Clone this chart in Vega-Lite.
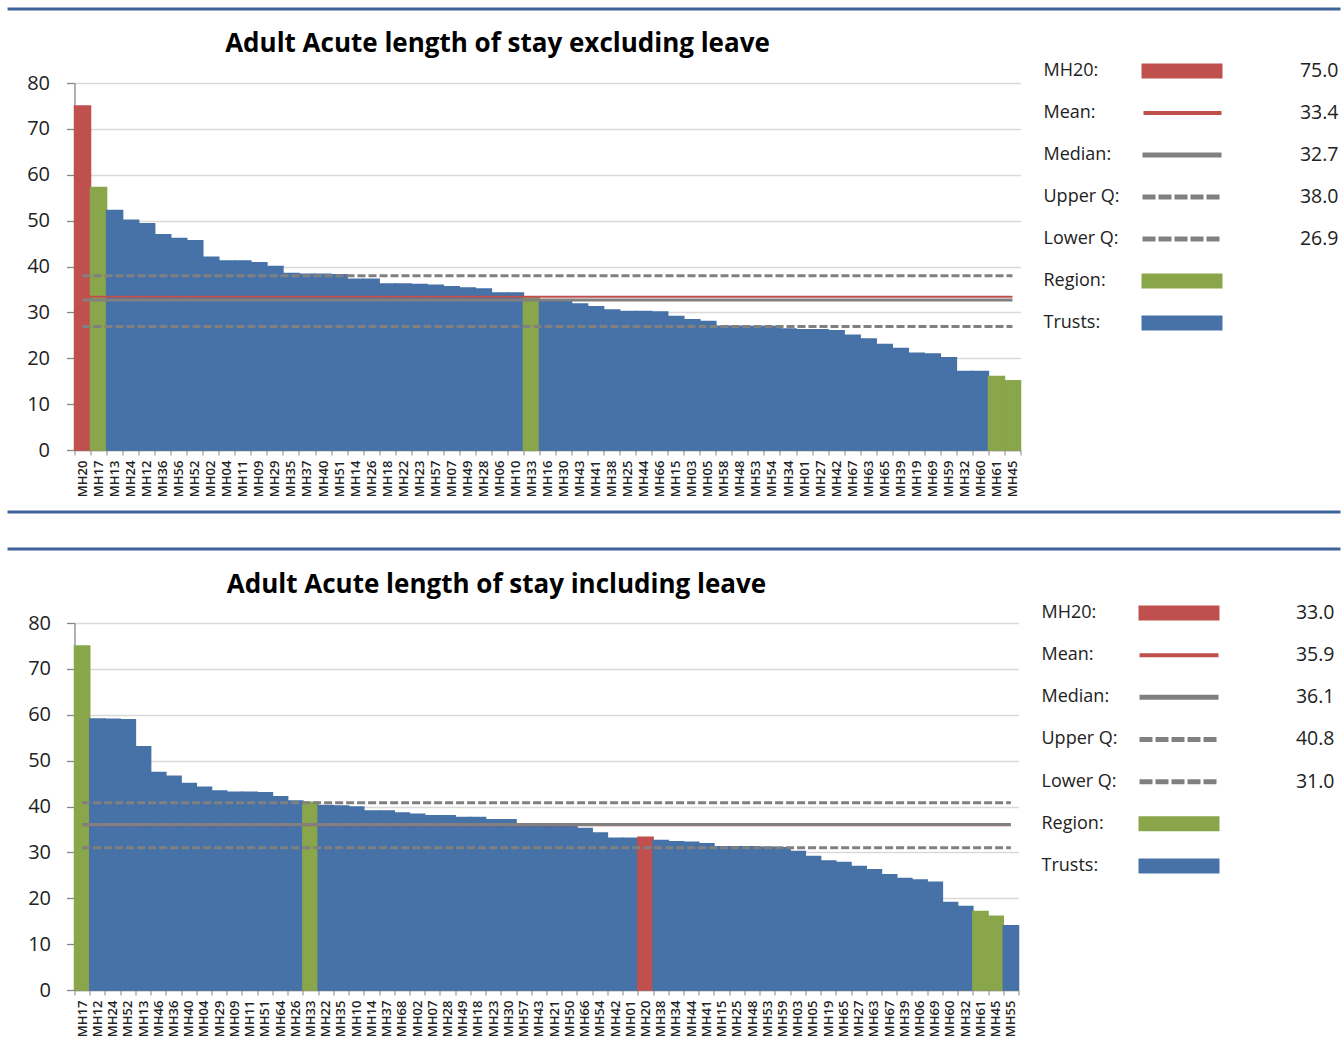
{
  "$schema": "https://vega.github.io/schema/vega-lite/v6.json",
  "background": "white",
  "padding": {"left": 5.5, "top": 7, "right": 0, "bottom": 0},
  "spacing": 13,
  "align": "none",
  "datasets": {
    "excl": [
      {"trust": "MH20", "los": 75.0, "group": "MH20"},
      {"trust": "MH17", "los": 57.2, "group": "Region"},
      {"trust": "MH13", "los": 52.2, "group": "Trusts"},
      {"trust": "MH24", "los": 50.1, "group": "Trusts"},
      {"trust": "MH12", "los": 49.3, "group": "Trusts"},
      {"trust": "MH36", "los": 46.9, "group": "Trusts"},
      {"trust": "MH56", "los": 46.1, "group": "Trusts"},
      {"trust": "MH52", "los": 45.6, "group": "Trusts"},
      {"trust": "MH02", "los": 42.0, "group": "Trusts"},
      {"trust": "MH04", "los": 41.2, "group": "Trusts"},
      {"trust": "MH11", "los": 41.2, "group": "Trusts"},
      {"trust": "MH09", "los": 40.8, "group": "Trusts"},
      {"trust": "MH29", "los": 40.0, "group": "Trusts"},
      {"trust": "MH35", "los": 38.5, "group": "Trusts"},
      {"trust": "MH37", "los": 38.3, "group": "Trusts"},
      {"trust": "MH40", "los": 38.3, "group": "Trusts"},
      {"trust": "MH51", "los": 38.2, "group": "Trusts"},
      {"trust": "MH14", "los": 37.2, "group": "Trusts"},
      {"trust": "MH26", "los": 37.2, "group": "Trusts"},
      {"trust": "MH18", "los": 36.2, "group": "Trusts"},
      {"trust": "MH22", "los": 36.2, "group": "Trusts"},
      {"trust": "MH23", "los": 36.1, "group": "Trusts"},
      {"trust": "MH57", "los": 35.9, "group": "Trusts"},
      {"trust": "MH07", "los": 35.6, "group": "Trusts"},
      {"trust": "MH49", "los": 35.3, "group": "Trusts"},
      {"trust": "MH28", "los": 35.1, "group": "Trusts"},
      {"trust": "MH06", "los": 34.2, "group": "Trusts"},
      {"trust": "MH10", "los": 34.2, "group": "Trusts"},
      {"trust": "MH33", "los": 33.4, "group": "Region"},
      {"trust": "MH16", "los": 32.7, "group": "Trusts"},
      {"trust": "MH30", "los": 32.3, "group": "Trusts"},
      {"trust": "MH43", "los": 31.8, "group": "Trusts"},
      {"trust": "MH41", "los": 31.2, "group": "Trusts"},
      {"trust": "MH38", "los": 30.5, "group": "Trusts"},
      {"trust": "MH25", "los": 30.2, "group": "Trusts"},
      {"trust": "MH44", "los": 30.2, "group": "Trusts"},
      {"trust": "MH66", "los": 30.1, "group": "Trusts"},
      {"trust": "MH15", "los": 29.1, "group": "Trusts"},
      {"trust": "MH03", "los": 28.4, "group": "Trusts"},
      {"trust": "MH05", "los": 28.0, "group": "Trusts"},
      {"trust": "MH58", "los": 27.0, "group": "Trusts"},
      {"trust": "MH48", "los": 27.0, "group": "Trusts"},
      {"trust": "MH53", "los": 26.9, "group": "Trusts"},
      {"trust": "MH54", "los": 26.9, "group": "Trusts"},
      {"trust": "MH34", "los": 26.4, "group": "Trusts"},
      {"trust": "MH01", "los": 26.2, "group": "Trusts"},
      {"trust": "MH27", "los": 26.2, "group": "Trusts"},
      {"trust": "MH42", "los": 26.0, "group": "Trusts"},
      {"trust": "MH67", "los": 25.0, "group": "Trusts"},
      {"trust": "MH63", "los": 24.2, "group": "Trusts"},
      {"trust": "MH65", "los": 23.0, "group": "Trusts"},
      {"trust": "MH39", "los": 22.1, "group": "Trusts"},
      {"trust": "MH19", "los": 21.1, "group": "Trusts"},
      {"trust": "MH69", "los": 20.9, "group": "Trusts"},
      {"trust": "MH59", "los": 20.1, "group": "Trusts"},
      {"trust": "MH32", "los": 17.1, "group": "Trusts"},
      {"trust": "MH60", "los": 17.1, "group": "Trusts"},
      {"trust": "MH61", "los": 16.0, "group": "Region"},
      {"trust": "MH45", "los": 15.1, "group": "Region"}
    ],
    "incl": [
      {"trust": "MH17", "los": 75.0, "group": "Region"},
      {"trust": "MH12", "los": 59.1, "group": "Trusts"},
      {"trust": "MH24", "los": 59.0, "group": "Trusts"},
      {"trust": "MH52", "los": 58.9, "group": "Trusts"},
      {"trust": "MH13", "los": 53.0, "group": "Trusts"},
      {"trust": "MH46", "los": 47.4, "group": "Trusts"},
      {"trust": "MH36", "los": 46.6, "group": "Trusts"},
      {"trust": "MH40", "los": 45.0, "group": "Trusts"},
      {"trust": "MH04", "los": 44.2, "group": "Trusts"},
      {"trust": "MH29", "los": 43.4, "group": "Trusts"},
      {"trust": "MH09", "los": 43.1, "group": "Trusts"},
      {"trust": "MH11", "los": 43.1, "group": "Trusts"},
      {"trust": "MH51", "los": 43.0, "group": "Trusts"},
      {"trust": "MH64", "los": 42.1, "group": "Trusts"},
      {"trust": "MH26", "los": 41.2, "group": "Trusts"},
      {"trust": "MH33", "los": 40.9, "group": "Region"},
      {"trust": "MH22", "los": 40.2, "group": "Trusts"},
      {"trust": "MH35", "los": 40.1, "group": "Trusts"},
      {"trust": "MH10", "los": 39.9, "group": "Trusts"},
      {"trust": "MH14", "los": 39.0, "group": "Trusts"},
      {"trust": "MH37", "los": 39.0, "group": "Trusts"},
      {"trust": "MH68", "los": 38.6, "group": "Trusts"},
      {"trust": "MH02", "los": 38.3, "group": "Trusts"},
      {"trust": "MH07", "los": 38.0, "group": "Trusts"},
      {"trust": "MH28", "los": 38.0, "group": "Trusts"},
      {"trust": "MH49", "los": 37.6, "group": "Trusts"},
      {"trust": "MH18", "los": 37.6, "group": "Trusts"},
      {"trust": "MH23", "los": 37.1, "group": "Trusts"},
      {"trust": "MH30", "los": 37.1, "group": "Trusts"},
      {"trust": "MH57", "los": 36.2, "group": "Trusts"},
      {"trust": "MH43", "los": 36.1, "group": "Trusts"},
      {"trust": "MH21", "los": 35.9, "group": "Trusts"},
      {"trust": "MH50", "los": 35.8, "group": "Trusts"},
      {"trust": "MH66", "los": 35.2, "group": "Trusts"},
      {"trust": "MH54", "los": 34.2, "group": "Trusts"},
      {"trust": "MH42", "los": 33.1, "group": "Trusts"},
      {"trust": "MH01", "los": 33.1, "group": "Trusts"},
      {"trust": "MH20", "los": 33.3, "group": "MH20"},
      {"trust": "MH38", "los": 32.6, "group": "Trusts"},
      {"trust": "MH34", "los": 32.3, "group": "Trusts"},
      {"trust": "MH44", "los": 32.2, "group": "Trusts"},
      {"trust": "MH41", "los": 31.9, "group": "Trusts"},
      {"trust": "MH15", "los": 31.2, "group": "Trusts"},
      {"trust": "MH25", "los": 31.2, "group": "Trusts"},
      {"trust": "MH48", "los": 31.2, "group": "Trusts"},
      {"trust": "MH53", "los": 31.1, "group": "Trusts"},
      {"trust": "MH59", "los": 31.0, "group": "Trusts"},
      {"trust": "MH03", "los": 30.2, "group": "Trusts"},
      {"trust": "MH05", "los": 29.1, "group": "Trusts"},
      {"trust": "MH19", "los": 28.1, "group": "Trusts"},
      {"trust": "MH65", "los": 27.8, "group": "Trusts"},
      {"trust": "MH27", "los": 26.9, "group": "Trusts"},
      {"trust": "MH63", "los": 26.2, "group": "Trusts"},
      {"trust": "MH67", "los": 25.1, "group": "Trusts"},
      {"trust": "MH39", "los": 24.3, "group": "Trusts"},
      {"trust": "MH06", "los": 24.0, "group": "Trusts"},
      {"trust": "MH69", "los": 23.5, "group": "Trusts"},
      {"trust": "MH60", "los": 19.1, "group": "Trusts"},
      {"trust": "MH32", "los": 18.2, "group": "Trusts"},
      {"trust": "MH61", "los": 17.1, "group": "Region"},
      {"trust": "MH45", "los": 16.1, "group": "Region"},
      {"trust": "MH55", "los": 14.0, "group": "Trusts"}
    ],
    "excl_stats": [
      {"stat": "Mean", "value": 33.4},
      {"stat": "Median", "value": 32.7},
      {"stat": "Upper Q", "value": 38.0},
      {"stat": "Lower Q", "value": 26.9}
    ],
    "incl_stats": [
      {"stat": "Mean", "value": 35.9},
      {"stat": "Median", "value": 36.1},
      {"stat": "Upper Q", "value": 40.8},
      {"stat": "Lower Q", "value": 31.0}
    ],
    "excl_legend": [
      {"order": 1, "label": "MH20:", "value": "75.0", "symbol": "bar"},
      {"order": 2, "label": "Mean:", "value": "33.4", "symbol": "mean"},
      {"order": 3, "label": "Median:", "value": "32.7", "symbol": "median"},
      {"order": 4, "label": "Upper Q:", "value": "38.0", "symbol": "quartile"},
      {"order": 5, "label": "Lower Q:", "value": "26.9", "symbol": "quartile"},
      {"order": 6, "label": "Region:", "value": "", "symbol": "bar"},
      {"order": 7, "label": "Trusts:", "value": "", "symbol": "bar"}
    ],
    "incl_legend": [
      {"order": 1, "label": "MH20:", "value": "33.0", "symbol": "bar"},
      {"order": 2, "label": "Mean:", "value": "35.9", "symbol": "mean"},
      {"order": 3, "label": "Median:", "value": "36.1", "symbol": "median"},
      {"order": 4, "label": "Upper Q:", "value": "40.8", "symbol": "quartile"},
      {"order": 5, "label": "Lower Q:", "value": "31.0", "symbol": "quartile"},
      {"order": 6, "label": "Region:", "value": "", "symbol": "bar"},
      {"order": 7, "label": "Trusts:", "value": "", "symbol": "bar"}
    ],
    "separator": [{"line": "separator"}]
  },
  "vconcat": [
    {
      "data": {"name": "separator"},
      "width": 1266, "height": 9,
      "mark": {"type": "rule", "color": "#3E6399", "strokeWidth": 3},
      "encoding": {
        "x": {"datum": -0.0529, "type": "quantitative", "scale": {"domain": [0, 1], "nice": false, "zero": false}, "axis": null},
        "x2": {"datum": 1},
        "y": {"datum": 1, "type": "quantitative", "scale": {"domain": [0, 1], "nice": false}, "axis": null}
      }
    },
    {
      "spacing": 10,
      "hconcat": [
        {
          "width": 946, "height": 367,
          "title": {"text": "Adult Acute length of stay excluding leave", "frame": "group", "dx": -50, "offset": 16, "fontSize": 26, "font": "Open Sans", "fontWeight": "bold", "color": "#000000"},
          "layer": [
            {
              "data": {"name": "excl"},
              "mark": {"type": "bar", "strokeWidth": 1.5},
              "encoding": {
                "x": {"field": "trust", "type": "nominal", "sort": null, "scale": {"paddingInner": 0, "paddingOuter": 0}},
                "y": {"field": "los", "type": "quantitative", "scale": {"domain": [0, 80]}, "axis": {"values": [0, 10, 20, 30, 40, 50, 60, 70, 80]}},
                "color": {"field": "group", "type": "nominal", "scale": {"domain": ["MH20", "Region", "Trusts"], "range": ["#C0504D", "#8AA64B", "#4672A7"]}, "legend": null},
                "stroke": {"field": "group", "type": "nominal", "scale": {"domain": ["MH20", "Region", "Trusts"], "range": ["#C0504D", "#8AA64B", "#4672A7"]}, "legend": null}
              }
            },
            {
              "data": {"name": "excl_stats"},
              "transform": [{"filter": "datum.stat == 'Upper Q' || datum.stat == 'Lower Q'"}],
              "mark": {"type": "rule", "color": "#808080", "strokeWidth": 3, "strokeDash": [8, 3]},
              "encoding": {"x": {"datum": "MH20"}, "x2": {"datum": "MH45"}, "y": {"field": "value", "type": "quantitative"}}
            },
            {
              "data": {"name": "excl_stats"},
              "transform": [{"filter": "datum.stat == 'Mean'"}],
              "mark": {"type": "rule", "color": "#C0504D", "strokeWidth": 2},
              "encoding": {"x": {"datum": "MH20"}, "x2": {"datum": "MH45"}, "y": {"field": "value", "type": "quantitative"}}
            },
            {
              "data": {"name": "excl_stats"},
              "transform": [{"filter": "datum.stat == 'Median'"}],
              "mark": {"type": "rule", "color": "#808080", "strokeWidth": 3},
              "encoding": {"x": {"datum": "MH20"}, "x2": {"datum": "MH45"}, "y": {"field": "value", "type": "quantitative"}}
            }
          ]
        },
        {
          "data": {"name": "excl_legend"},
          "width": 310, "height": 367,
          "encoding": {
            "y": {"field": "order", "type": "quantitative", "axis": null, "scale": {"domain": [1.286, 10.024], "reverse": true, "nice": false, "zero": false}}
          },
          "layer": [
            {
              "mark": {"type": "text", "align": "left", "baseline": "middle", "fontSize": 18, "font": "Open Sans", "color": "#222222"},
              "encoding": {"x": {"datum": 12, "type": "quantitative", "scale": {"domain": [0, 310], "nice": false, "zero": false}, "axis": null}, "text": {"field": "label"}}
            },
            {
              "mark": {"type": "text", "align": "right", "baseline": "middle", "fontSize": 19.5, "font": "Open Sans", "color": "#222222"},
              "encoding": {"x": {"datum": 307, "type": "quantitative"}, "text": {"field": "value"}}
            },
            {
              "transform": [{"filter": "datum.symbol == 'bar'"}],
              "mark": {"type": "rule", "strokeWidth": 15, "strokeCap": "butt"},
              "encoding": {
                "x": {"datum": 110, "type": "quantitative"}, "x2": {"datum": 191},
                "color": {"field": "label", "type": "nominal", "scale": {"domain": ["MH20:", "Region:", "Trusts:"], "range": ["#C0504D", "#8AA64B", "#4672A7"]}, "legend": null}
              }
            },
            {
              "transform": [{"filter": "datum.symbol == 'mean'"}],
              "mark": {"type": "rule", "strokeWidth": 4, "color": "#C0504D"},
              "encoding": {"x": {"datum": 112, "type": "quantitative"}, "x2": {"datum": 190}}
            },
            {
              "transform": [{"filter": "datum.symbol == 'median'"}],
              "mark": {"type": "rule", "strokeWidth": 5, "color": "#808080"},
              "encoding": {"x": {"datum": 111, "type": "quantitative"}, "x2": {"datum": 190}}
            },
            {
              "transform": [{"filter": "datum.symbol == 'quartile'"}],
              "mark": {"type": "rule", "strokeWidth": 5, "color": "#808080", "strokeDash": [13, 3]},
              "encoding": {"x": {"datum": 111, "type": "quantitative"}, "x2": {"datum": 190}}
            }
          ]
        }
      ]
    },
    {
      "data": {"name": "separator"},
      "width": 1266, "height": 22,
      "mark": {"type": "rule", "color": "#3E6399", "strokeWidth": 3},
      "encoding": {
        "x": {"datum": -0.0529, "type": "quantitative", "scale": {"domain": [0, 1], "nice": false, "zero": false}, "axis": null},
        "x2": {"datum": 1},
        "y": {"datum": 1, "type": "quantitative", "scale": {"domain": [0, 1], "nice": false}, "axis": null}
      }
    },
    {
      "data": {"name": "separator"},
      "width": 1266, "height": 10,
      "mark": {"type": "rule", "color": "#3E6399", "strokeWidth": 3},
      "encoding": {
        "x": {"datum": -0.0529, "type": "quantitative", "scale": {"domain": [0, 1], "nice": false, "zero": false}, "axis": null},
        "x2": {"datum": 1},
        "y": {"datum": 1, "type": "quantitative", "scale": {"domain": [0, 1], "nice": false}, "axis": null}
      }
    },
    {
      "spacing": 10,
      "hconcat": [
        {
          "width": 944, "height": 367,
          "title": {"text": "Adult Acute length of stay including leave", "frame": "group", "dx": -50, "offset": 15, "fontSize": 26, "font": "Open Sans", "fontWeight": "bold", "color": "#000000"},
          "layer": [
            {
              "data": {"name": "incl"},
              "mark": {"type": "bar", "strokeWidth": 1.5},
              "encoding": {
                "x": {"field": "trust", "type": "nominal", "sort": null, "scale": {"paddingInner": 0, "paddingOuter": 0}},
                "y": {"field": "los", "type": "quantitative", "scale": {"domain": [0, 80]}, "axis": {"values": [0, 10, 20, 30, 40, 50, 60, 70, 80], "minExtent": 66, "maxExtent": 66, "labelPadding": 16}},
                "color": {"field": "group", "type": "nominal", "scale": {"domain": ["MH20", "Region", "Trusts"], "range": ["#C0504D", "#8AA64B", "#4672A7"]}, "legend": null},
                "stroke": {"field": "group", "type": "nominal", "scale": {"domain": ["MH20", "Region", "Trusts"], "range": ["#C0504D", "#8AA64B", "#4672A7"]}, "legend": null}
              }
            },
            {
              "data": {"name": "incl_stats"},
              "transform": [{"filter": "datum.stat == 'Upper Q' || datum.stat == 'Lower Q'"}],
              "mark": {"type": "rule", "color": "#808080", "strokeWidth": 3, "strokeDash": [8, 3]},
              "encoding": {"x": {"datum": "MH17"}, "x2": {"datum": "MH55"}, "y": {"field": "value", "type": "quantitative"}}
            },
            {
              "data": {"name": "incl_stats"},
              "transform": [{"filter": "datum.stat == 'Mean'"}],
              "mark": {"type": "rule", "color": "#C0504D", "strokeWidth": 2},
              "encoding": {"x": {"datum": "MH17"}, "x2": {"datum": "MH55"}, "y": {"field": "value", "type": "quantitative"}}
            },
            {
              "data": {"name": "incl_stats"},
              "transform": [{"filter": "datum.stat == 'Median'"}],
              "mark": {"type": "rule", "color": "#808080", "strokeWidth": 3},
              "encoding": {"x": {"datum": "MH17"}, "x2": {"datum": "MH55"}, "y": {"field": "value", "type": "quantitative"}}
            }
          ]
        },
        {
          "data": {"name": "incl_legend"},
          "width": 310, "height": 367,
          "encoding": {
            "y": {"field": "order", "type": "quantitative", "axis": null, "scale": {"domain": [1.238, 9.941], "reverse": true, "nice": false, "zero": false}}
          },
          "layer": [
            {
              "mark": {"type": "text", "align": "left", "baseline": "middle", "fontSize": 18, "font": "Open Sans", "color": "#222222"},
              "encoding": {"x": {"datum": 12, "type": "quantitative", "scale": {"domain": [0, 310], "nice": false, "zero": false}, "axis": null}, "text": {"field": "label"}}
            },
            {
              "mark": {"type": "text", "align": "right", "baseline": "middle", "fontSize": 19.5, "font": "Open Sans", "color": "#222222"},
              "encoding": {"x": {"datum": 305, "type": "quantitative"}, "text": {"field": "value"}}
            },
            {
              "transform": [{"filter": "datum.symbol == 'bar'"}],
              "mark": {"type": "rule", "strokeWidth": 15, "strokeCap": "butt"},
              "encoding": {
                "x": {"datum": 109, "type": "quantitative"}, "x2": {"datum": 190},
                "color": {"field": "label", "type": "nominal", "scale": {"domain": ["MH20:", "Region:", "Trusts:"], "range": ["#C0504D", "#8AA64B", "#4672A7"]}, "legend": null}
              }
            },
            {
              "transform": [{"filter": "datum.symbol == 'mean'"}],
              "mark": {"type": "rule", "strokeWidth": 4, "color": "#C0504D"},
              "encoding": {"x": {"datum": 110, "type": "quantitative"}, "x2": {"datum": 189}}
            },
            {
              "transform": [{"filter": "datum.symbol == 'median'"}],
              "mark": {"type": "rule", "strokeWidth": 5, "color": "#808080"},
              "encoding": {"x": {"datum": 110, "type": "quantitative"}, "x2": {"datum": 189}}
            },
            {
              "transform": [{"filter": "datum.symbol == 'quartile'"}],
              "mark": {"type": "rule", "strokeWidth": 5, "color": "#808080", "strokeDash": [13, 3]},
              "encoding": {"x": {"datum": 110, "type": "quantitative"}, "x2": {"datum": 189}}
            }
          ]
        }
      ]
    }
  ],
  "config": {
    "view": {"stroke": null},
    "axisY": {
      "title": null, "grid": true, "gridColor": "#D9D9D9", "gridWidth": 1.3,
      "domainColor": "#868686", "domainWidth": 1.3, "tickColor": "#868686", "tickSize": 8, "tickWidth": 1.3,
      "labelFont": "Open Sans", "labelFontSize": 20, "labelColor": "#222222", "labelPadding": 17,
      "minExtent": 67, "maxExtent": 67
    },
    "axisX": {
      "title": null, "labelAngle": -90, "labelFont": "Open Sans", "labelFontSize": 13, "labelFontWeight": 600, "labelColor": "#222222",
      "labelPadding": 5, "labelOverlap": false, "tickBand": "extent", "tickSize": 5, "tickColor": "#868686",
      "domainColor": "#868686", "domainWidth": 1.3, "grid": false
    }
  }
}
